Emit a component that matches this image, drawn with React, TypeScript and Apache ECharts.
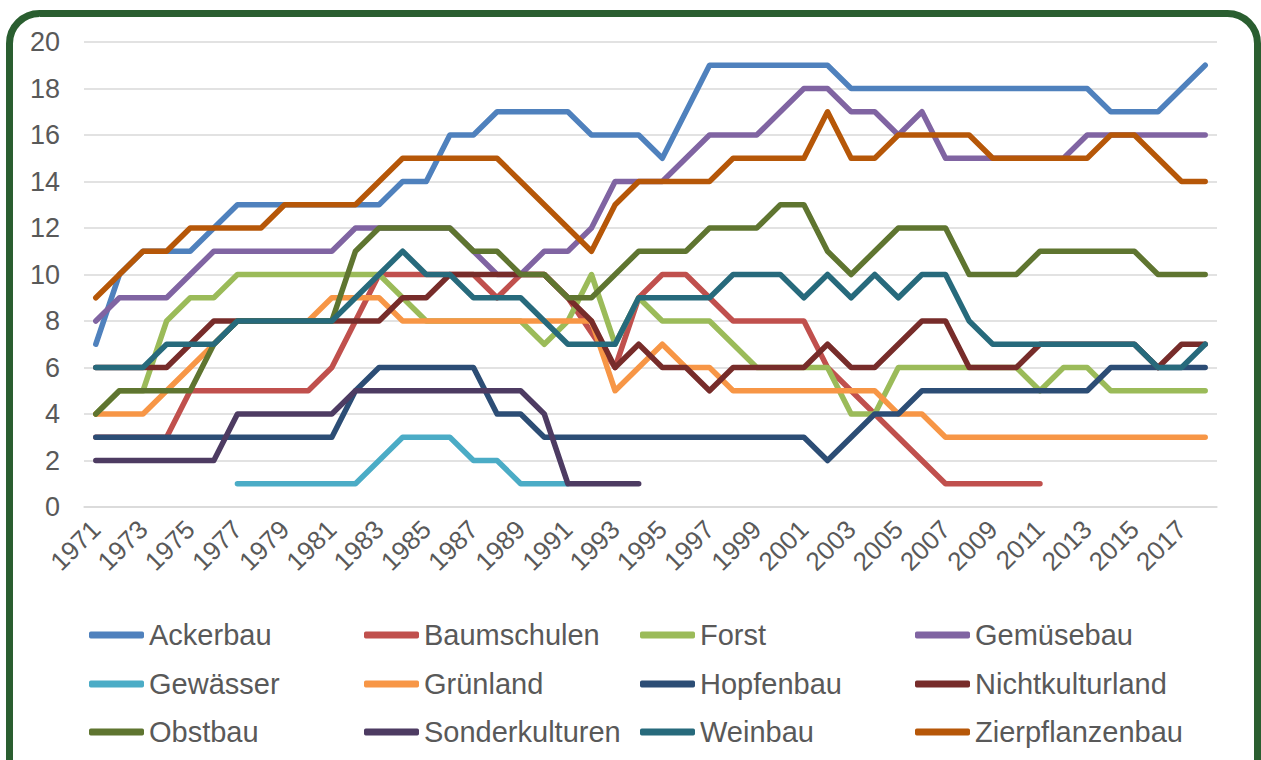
import React, { useEffect, useRef } from "react";
import * as echarts from "echarts";

const years = [
  "1971","1972","1973","1974","1975","1976","1977","1978","1979","1980",
  "1981","1982","1983","1984","1985","1986","1987","1988","1989","1990",
  "1991","1992","1993","1994","1995","1996","1997","1998","1999","2000",
  "2001","2002","2003","2004","2005","2006","2007","2008","2009","2010",
  "2011","2012","2013","2014","2015","2016","2017","2018",
];

const N = null;

const ackerbau = [7,10,11,11,11,12,13,13,13,13, 13,13,13,14,14,16,16,17,17,17, 17,16,16,16,15,17,19,19,19,19, 19,19,18,18,18,18,18,18,18,18, 18,18,18,17,17,17,18,19];
const baumschulen = [3,3,3,3,5,5,5,5,5,5, 6,8,10,10,10,10,10,9,10,10, 9,7.5,6,9,10,10,9,8,8,8, 8,6,5,4,3,2,1,1,1,1, 1,N,N,N,N,N,N,N];
const forst = [4,5,5,8,9,9,10,10,10,10, 10,10,10,9,8,8,8,8,8,7, 8,10,7,9,8,8,8,7,6,6, 6,6,4,4,6,6,6,6,6,6, 5,6,6,5,5,5,5,5];
const gemuesebau = [8,9,9,9,10,11,11,11,11,11, 11,12,12,12,12,12,11,10,10,11, 11,12,14,14,14,15,16,16,16,17, 18,18,17,17,16,17,15,15,15,15, 15,15,16,16,16,16,16,16];
const gewaesser = [N,N,N,N,N,N,1,1,1,1, 1,1,2,3,3,3,2,2,1,1, 1,N,N,N,N,N,N,N,N,N, N,N,N,N,N,N,N,N,N,N, N,N,N,N,N,N,N,N];
const gruenland = [4,4,4,5,6,7,8,8,8,8, 9,9,9,8,8,8,8,8,8,8, 8,8,5,6,7,6,6,5,5,5, 5,5,5,5,4,4,3,3,3,3, 3,3,3,3,3,3,3,3];
const hopfenbau = [3,3,3,3,3,3,3,3,3,3, 3,5,6,6,6,6,6,4,4,3, 3,3,3,3,3,3,3,3,3,3, 3,2,3,4,4,5,5,5,5,5, 5,5,5,6,6,6,6,6];
const nichtkulturland = [6,6,6,6,7,8,8,8,8,8, 8,8,8,9,9,10,10,10,10,10, 9,8,6,7,6,6,5,6,6,6, 6,7,6,6,7,8,8,6,6,6, 7,7,7,7,7,6,7,7];
const obstbau = [4,5,5,5,5,7,8,8,8,8, 8,11,12,12,12,12,11,11,10,10, 9,9,10,11,11,11,12,12,12,13, 13,11,10,11,12,12,12,10,10,10, 11,11,11,11,11,10,10,10];
const sonderkulturen = [2,2,2,2,2,2,4,4,4,4, 4,5,5,5,5,5,5,5,5,4, 1,1,1,1,N,N,N,N,N,N, N,N,N,N,N,N,N,N,N,N, N,N,N,N,N,N,N,N];
const weinbau = [6,6,6,7,7,7,8,8,8,8, 8,9,10,11,10,10,9,9,9,8, 7,7,7,9,9,9,9,10,10,10, 9,10,9,10,9,10,10,8,7,7, 7,7,7,7,7,6,6,7];
const zierpflanzenbau = [9,10,11,11,12,12,12,12,13,13, 13,13,14,15,15,15,15,15,14,13, 12,11,13,14,14,14,14,15,15,15, 15,17,15,15,16,16,16,16,15,15, 15,15,15,16,16,15,14,14];

const seriesNames = [
  "Ackerbau","Baumschulen","Forst","Gemüsebau",
  "Gewässer","Grünland","Hopfenbau","Nichtkulturland",
  "Obstbau","Sonderkulturen","Weinbau","Zierpflanzenbau",
];
const seriesData = [
  ackerbau, baumschulen, forst, gemuesebau,
  gewaesser, gruenland, hopfenbau, nichtkulturland,
  obstbau, sonderkulturen, weinbau, zierpflanzenbau,
];
const colors = [
  "#4F81BD","#C0504D","#9BBB59","#8064A2",
  "#4BACC6","#F79646","#2C4D75","#772C2A",
  "#5F7530","#4D3B62","#276A7C","#B65708",
];

const FONT = "'Liberation Sans', Arial, sans-serif";
const TEXT = "#595959";

export default function App() {
  const ref = useRef<HTMLDivElement>(null);
  useEffect(() => {
    if (!ref.current) return;
    const chart = echarts.init(ref.current, null, { renderer: "svg" });
    const colX = [89, 364, 640, 915];
    const rowY = [635, 684, 732];
    const legends = seriesNames.map((name, i) => ({
      data: [name],
      left: colX[i % 4],
      top: rowY[Math.floor(i / 4)] - 16,
      orient: "horizontal",
      icon: "roundRect",
      itemWidth: 55,
      itemHeight: 7,
      selectedMode: false,
      padding: 0,
      textStyle: { color: TEXT, fontSize: 29, fontFamily: FONT, lineHeight: 32 },
    }));
    chart.setOption({
      animation: false,
      color: colors,
      textStyle: { fontFamily: FONT },
      graphic: [
        {
          type: "rect",
          left: 6,
          top: 10,
          z: -10,
          silent: true,
          shape: { width: 1248, height: 820, r: 30 },
          style: { fill: "#ffffff", stroke: "#2A5E30", lineWidth: 7 },
        },
      ],
      grid: { left: 84, right: 44, top: 42, bottom: 253, containLabel: false },
      legend: legends,
      xAxis: {
        type: "category",
        data: years,
        boundaryGap: true,
        axisLine: { show: true, lineStyle: { color: "#D9D9D9", width: 1.5 } },
        axisTick: { show: false },
        axisLabel: {
          interval: 1,
          rotate: 45,
          margin: 18,
          color: TEXT,
          fontSize: 26,
          fontFamily: FONT,
        },
      },
      yAxis: {
        type: "value",
        min: 0,
        max: 20,
        interval: 2,
        axisLine: { show: false },
        axisTick: { show: false },
        axisLabel: { color: TEXT, fontSize: 27, fontFamily: FONT, margin: 24 },
        splitLine: { lineStyle: { color: "#D9D9D9", width: 1.5 } },
      },
      series: seriesNames.map((name, i) => ({
        name,
        type: "line",
        data: seriesData[i],
        showSymbol: false,
        symbol: "none",
        connectNulls: false,
        lineStyle: { width: 5.5, color: colors[i], cap: "round", join: "round" },
        itemStyle: { color: colors[i] },
      })),
    });
    return () => chart.dispose();
  }, []);
  return (
    <div
      ref={ref}
      style={{ position: "absolute", left: 0, top: 0, width: 1261, height: 760, background: "#fff" }}
    />
  );
}
